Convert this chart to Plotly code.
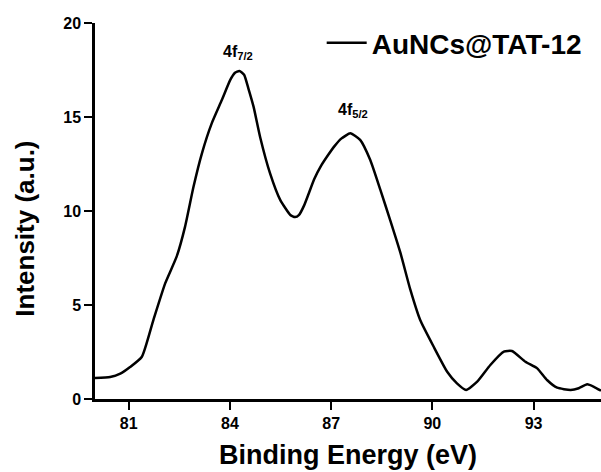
import plotly.graph_objects as go

energy = [80.0, 80.45, 80.75, 81.04, 81.39, 81.73, 82.08, 82.42, 82.67, 82.92, 83.17, 83.46,
          83.76, 84.01, 84.15, 84.28, 84.42, 84.55, 84.70, 84.90, 85.19, 85.49, 85.79, 85.93,
          86.05, 86.20, 86.35, 86.50, 86.70, 86.90, 87.10, 87.30, 87.57, 87.86, 88.16, 88.46,
          88.75, 89.05, 89.35, 89.64, 90.04, 90.44, 90.73, 91.0, 91.33, 91.72, 92.12, 92.36,
          92.76, 93.11, 93.40, 93.70, 94.10, 94.34, 94.59, 94.79, 95.0]
intensity = [1.12, 1.17, 1.35, 1.70, 2.25, 4.20, 6.15, 7.57, 9.17, 11.29, 13.07, 14.66,
             15.90, 16.97, 17.35, 17.45, 17.25, 16.50, 15.55, 13.90, 12.00, 10.59, 9.79, 9.68,
             9.80, 10.30, 11.00, 11.70, 12.40, 12.95, 13.45, 13.85, 14.13, 13.78, 12.71, 11.12,
             9.52, 7.80, 5.80, 4.20, 2.78, 1.45, 0.83, 0.48, 0.92, 1.81, 2.52, 2.55,
             1.98, 1.63, 1.01, 0.60, 0.48, 0.57, 0.78, 0.65, 0.44]
series_name = "AuNCs@TAT-12"
x_ticks = [81, 84, 87, 90, 93]
y_ticks = [0, 5, 10, 15, 20]
peak_labels = ["4f<sub>7/2</sub>", "4f<sub>5/2</sub>"]
peak_x = [84.25, 87.65]
peak_y = [18.45, 15.35]
x_title = "Binding Energy (eV)"
y_title = "Intensity (a.u.)"

FONT = "Liberation Sans, Arial, sans-serif"

fig = go.Figure()
fig.add_trace(go.Scatter(x=energy, y=intensity, mode="lines", name="<b>" + series_name + "</b>",
                         line=dict(color="black", width=2.5, shape="spline", smoothing=0.5)))

for t, px, py in zip(peak_labels, peak_x, peak_y):
    fig.add_annotation(x=px, y=py, text="<b>" + t + "</b>", showarrow=False,
                       xanchor="center", yanchor="middle",
                       font=dict(family=FONT, size=16, color="black"))

# axis titles
fig.add_annotation(xref="paper", yref="paper", x=0.5, y=-0.149, text="<b>" + x_title + "</b>",
                   showarrow=False, xanchor="center", yanchor="middle",
                   font=dict(family=FONT, size=27, color="black"))
fig.add_annotation(xref="paper", yref="paper", x=-0.139, y=0.452, text="<b>" + y_title + "</b>",
                   showarrow=False, xanchor="center", yanchor="middle", textangle=-90,
                   font=dict(family=FONT, size=26, color="black"))

axis_common = dict(showline=True, linecolor="black", linewidth=2.5, ticks="outside",
                   tickwidth=2, ticklen=8, tickcolor="black", showgrid=False, zeroline=False,
                   tickfont=dict(family=FONT, size=16, color="black"))

fig.update_xaxes(range=[80, 95], tickvals=x_ticks, ticktext=[f"<b>{v}</b>" for v in x_ticks],
                 **axis_common)
fig.update_yaxes(range=[0, 20], tickvals=y_ticks, ticktext=[f"<b>{v}</b>" for v in y_ticks],
                 **axis_common)

fig.update_layout(
    width=601, height=472,
    margin=dict(l=95, r=0, t=23, b=73),
    plot_bgcolor="white", paper_bgcolor="white",
    showlegend=True,
    legend=dict(x=0.448, y=0.947, xanchor="left", yanchor="middle",
                font=dict(family=FONT, size=28, color="black"),
                bgcolor="rgba(0,0,0,0)", itemwidth=40),
    font=dict(family=FONT),
)

fig.write_html("out.html")
